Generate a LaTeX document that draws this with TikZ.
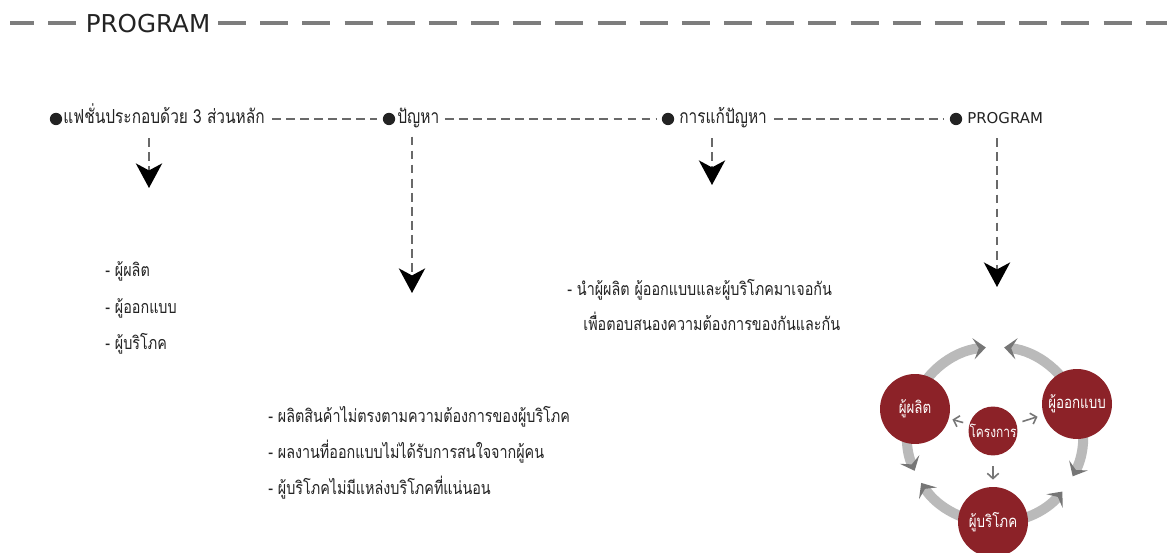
\documentclass[tikz,border=0pt]{standalone}
\usepackage{fontspec}
\usetikzlibrary{arrows.meta}
\newfontfamily\thaifont[Script=Thai, FakeStretch=0.8]{Loma}
\newfontfamily\latinfont{DejaVu Sans}
\definecolor{wine}{RGB}{140,34,40}
\definecolor{ringgray}{RGB}{186,186,186}
\definecolor{tipgray}{RGB}{118,118,118}
\definecolor{ink}{RGB}{35,35,35}
\definecolor{dashgray}{RGB}{105,105,105}
\definecolor{bargray}{RGB}{125,125,125}

\tikzset{
	dot/.style={circle, fill=ink, inner sep=0pt, minimum size=7pt},
	toptext/.style={anchor=base west, inner sep=0pt, text=ink, font=\thaifont\fontsize{11}{13}\selectfont},
	listtext/.style={toptext, font=\thaifont\fontsize{10.2}{12}\selectfont},
	link/.style={draw=dashgray, line width=0.8pt, dash pattern=on 5pt off 3pt},
	drop/.style={link, -{Stealth[length=14pt, width=15pt, inset=4pt, black]}},
	bar/.style={draw=bargray, line width=2.8pt, dash pattern=on 16pt off 8pt},
	person/.style={circle, fill=wine, text=white, inner sep=0pt, minimum size=1.4cm, font=\thaifont\fontsize{9.5}{10}\selectfont},
	ring/.style={draw=ringgray, line width=5.7pt, -{Stealth[length=7pt, width=12pt, inset=3pt, tipgray]}},
	hint/.style={draw=tipgray, line width=0.9pt, -{Straight Barb[length=3pt, width=6.5pt]}}
}

\begin{document}
\begin{tikzpicture}[x=0.02cm, y=0.02cm]
	% page: 1167 x 553 px, 1px = 0.02cm
	\useasboundingbox (0,0) rectangle (1167,-553);
	\fill[white] (0,0) rectangle (1167,-553);

	% title bar
	\node[text=ink, font=\latinfont\fontsize{14}{16}\selectfont, inner sep=0pt] (title) at (148,-24) {PROGRAM};
	\draw[bar] (76,-23) -- (10,-23);
	\draw[bar] (218,-23) -- (1167,-23);

	% top row
	\node[dot] (d1) at (56,-119) {};
	\node[toptext] (t1) at (63,-124) {แฟชั่นประกอบด้วย 3 ส่วนหลัก};
	\node[dot] (d2) at (389,-119) {};
	\node[toptext] (t2) at (397,-124) {ปัญหา};
	\node[dot] (d3) at (668,-119) {};
	\node[toptext] (t3) at (679,-124) {การแก้ปัญหา};
	\node[dot] (d4) at (956,-119) {};
	\node[toptext, font=\latinfont\fontsize{8.5}{10}\selectfont] (t4) at (967,-124) {PROGRAM};

	\draw[link, shorten <=4pt, shorten >=3pt] (t1.east |- d2) -- (d2);
	\draw[link, shorten <=3pt, shorten >=3pt] (t2.east |- d3) -- (d3);
	\draw[link, shorten <=4pt, shorten >=3pt] (t3.east |- d4) -- (d4);

	% drops
	\coordinate (tip1) at (149,-188);
	\coordinate (tip2) at (412,-293);
	\coordinate (tip3) at (712,-185);
	\coordinate (tip4) at (997,-287);
	\draw[drop, shorten <=11pt] (tip1 |- d1) -- (tip1);
	\draw[drop, shorten <=10pt] (tip2 |- d2) -- (tip2);
	\draw[drop, shorten <=11pt] (tip3 |- d3) -- (tip3);
	\draw[drop, shorten <=11pt] (tip4 |- d4) -- (tip4);

	% three parts
	\node[listtext] (part1) at (105,-277) {- ผู้ผลิต};
	\node[listtext] (part2) at (105,-314) {- ผู้ออกแบบ};
	\node[listtext] (part3) at (105,-350) {- ผู้บริโภค};

	% problems
	\node[listtext] (prob1) at (268,-423) {- ผลิตสินค้าไม่ตรงตามความต้องการของผู้บริโภค};
	\node[listtext] (prob2) at (268,-459) {- ผลงานที่ออกแบบไม่ได้รับการสนใจจากผู้คน};
	\node[listtext] (prob3) at (268,-495) {- ผู้บริโภคไม่มีแหล่งบริโภคที่แน่นอน};

	% solution
	\node[listtext] (sol1) at (567,-296) {- นำผู้ผลิต ผู้ออกแบบและผู้บริโภคมาเจอกัน};
	\node[listtext] (sol2) at (583,-331) {เพื่อตอบสนองความต้องการของกันและกัน};

	% program cycle
	\coordinate (C) at (995,-435);
	\draw[ring] (C) ++(162:88) arc[start angle=162, end angle=96, radius=88];
	\draw[ring] (C) ++(21:88) arc[start angle=21, end angle=84, radius=88];
	\draw[ring] (C) ++(162:88) arc[start angle=162, end angle=204, radius=88];
	\draw[ring] (C) ++(270:88) arc[start angle=270, end angle=213, radius=88];
	\draw[ring] (C) ++(21:88) arc[start angle=21, end angle=-28, radius=88];
	\draw[ring] (C) ++(270:88) arc[start angle=270, end angle=320, radius=88];

	\node[person] (prod) at (915,-409) {ผู้ผลิต};
	\node[person] (des) at (1077,-404) {ผู้ออกแบบ};
	\node[person] (cons) at (993,-522) {ผู้บริโภค};
	\node[person, minimum size=0.92cm, font=\thaifont\fontsize{8.5}{9}\selectfont] (proj) at (993,-431) {โครงการ};

	\draw[hint, shorten <=3.5pt, shorten >=2pt] (proj) -- (prod);
	\draw[hint, shorten <=3.5pt, shorten >=3.5pt] (proj) -- (des);
	\draw[hint, shorten <=6pt, shorten >=4pt] (proj) -- (cons);
\end{tikzpicture}
\end{document}
